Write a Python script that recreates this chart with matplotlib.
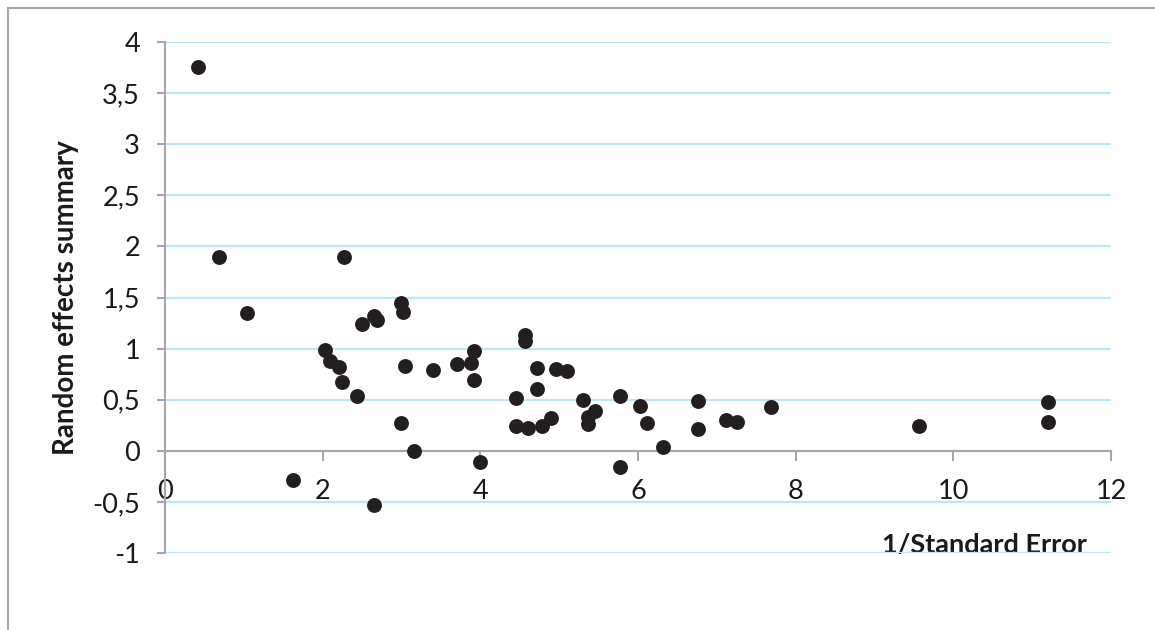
import numpy as np
import matplotlib.pyplot as plt
from matplotlib.ticker import FuncFormatter, MultipleLocator
from matplotlib.patches import Rectangle

# 1/SE and random effects summary per study
inv_se = [0.42, 0.68, 2.27, 1.04, 1.62, 2.03, 2.09, 2.21, 2.25, 2.43,
          2.50, 2.65, 2.69, 2.65, 2.99, 3.02, 2.99, 3.04, 3.16, 3.40,
          3.70, 3.88, 3.92, 3.92, 4.00, 4.45, 4.45, 4.61, 4.78, 4.57,
          4.57, 4.72, 4.72, 4.90, 4.96, 5.10, 5.30, 5.36, 5.36, 5.45,
          5.77, 5.77, 6.03, 6.12, 6.32, 6.76, 6.76, 7.12, 7.26, 7.69,
          9.56, 11.20, 11.20]
re_summary = [3.76, 1.90, 1.90, 1.35, -0.29, 0.99, 0.88, 0.82, 0.67, 0.54,
              1.24, 1.32, 1.28, -0.53, 1.45, 1.36, 0.27, 0.83, 0.00, 0.79,
              0.85, 0.86, 0.98, 0.69, -0.11, 0.52, 0.245, 0.22, 0.24, 1.13,
              1.07, 0.81, 0.60, 0.32, 0.80, 0.78, 0.50, 0.26, 0.33, 0.385,
              0.54, -0.155, 0.44, 0.27, 0.04, 0.49, 0.21, 0.30, 0.28, 0.43,
              0.24, 0.48, 0.28]

plt.rcParams['font.family'] = ['Lato', 'DejaVu Sans']

fig = plt.figure(figsize=(11.55, 6.3), dpi=100)
ax = fig.add_axes([165/1155, 1 - 553/630, 946/1155, 511/630])

ax.scatter(inv_se, re_summary, s=115, color='#231F20', zorder=3, linewidths=0)

ax.set_xlim(0, 12)
ax.set_ylim(-1, 4)
ax.xaxis.set_major_locator(MultipleLocator(2))
ax.yaxis.set_major_locator(MultipleLocator(0.5))
fmt = FuncFormatter(lambda v, p: ('%g' % v).replace('.', ','))
ax.xaxis.set_major_formatter(fmt)
ax.yaxis.set_major_formatter(fmt)

ax.grid(axis='y', color='#BDE4F7', linewidth=1.6, zorder=0)
ax.set_axisbelow(True)

grey = '#A6A6A6'
ax.spines['top'].set_visible(False)
ax.spines['right'].set_visible(False)
ax.spines['bottom'].set_position(('data', 0))
ax.spines['bottom'].set_color(grey)
ax.spines['left'].set_color(grey)
ax.spines['bottom'].set_linewidth(1.5)
ax.spines['left'].set_linewidth(1.5)
ax.tick_params(axis='x', direction='out', length=7, width=1.5, color=grey,
               pad=13, labelsize=19.5, labelcolor='#1a1a1a')
ax.tick_params(axis='y', direction='out', length=6, width=1.5, color=grey,
               pad=12, labelsize=19.5, labelcolor='#1a1a1a')

ax.set_xlabel('1/Standard Error', fontsize=19.5, fontweight='bold', color='#1a1a1a',
              ha='right', va='center')
ax.xaxis.set_label_coords(0.975, 0.016)
ax.set_ylabel('Random effects summary', fontsize=20, fontweight='bold', color='#1a1a1a',
              va='center')
ax.yaxis.set_label_coords(-0.105, 0.5)

# outer chart frame (only left and top visible)
fig.patches.append(Rectangle((8/1155, -0.2), 1.2, 1.2 - 8/630, transform=fig.transFigure,
                             fill=False, edgecolor=grey, linewidth=1.5))

fig.savefig('out.png', dpi=100)
